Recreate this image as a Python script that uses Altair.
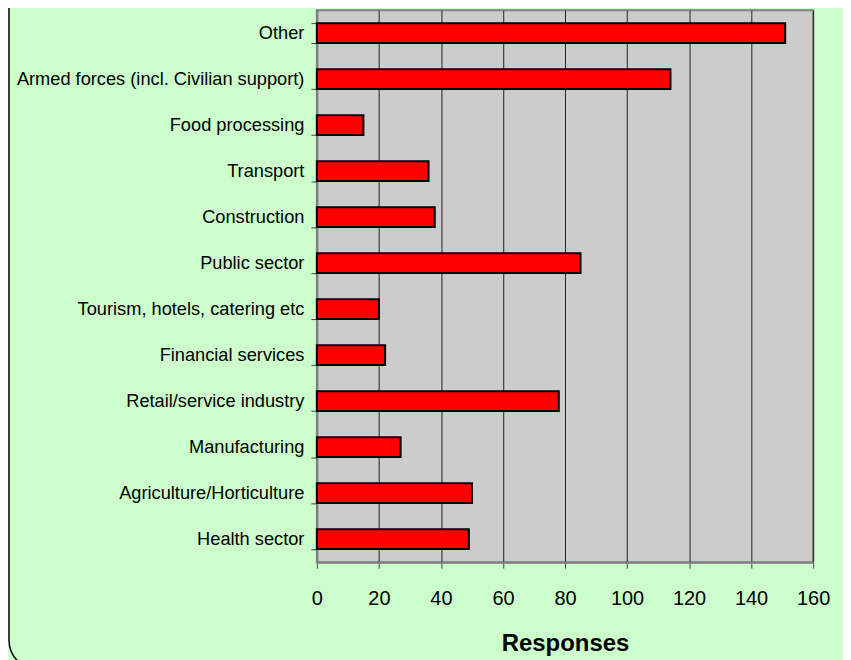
import altair as alt
import pandas as pd

categories = [
    "Other",
    "Armed forces (incl. Civilian support)",
    "Food processing",
    "Transport",
    "Construction",
    "Public sector",
    "Tourism, hotels, catering etc",
    "Financial services",
    "Retail/service industry",
    "Manufacturing",
    "Agriculture/Horticulture",
    "Health sector",
]
responses = [151, 114, 15, 36, 38, 85, 20, 22, 78, 27, 50, 49]
x_ticks = [0, 20, 40, 60, 80, 100, 120, 140, 160]

df = pd.DataFrame({"Sector": categories, "Responses": responses})

FONT = "Liberation Sans"

bars = (
    alt.Chart(df)
    .mark_bar(color="#FF0000", stroke="#000000", strokeWidth=2)
    .encode(
        x=alt.X(
            "Responses:Q",
            scale=alt.Scale(domain=[0, 160], nice=False),
            axis=alt.Axis(
                values=x_ticks,
                title="Responses",
                titleFont=FONT,
                titleFontSize=24,
                titleFontWeight="bold",
                titleColor="#000000",
                titlePadding=24,
                labelFont=FONT,
                labelFontSize=20,
                labelColor="#000000",
                labelPadding=20,
                labelFlush=False,
                tickSize=6,
                tickColor="#444444",
                domainColor="#808080",
                domainWidth=2,
                grid=True,
                gridColor="#222222",
                gridWidth=1,
                gridOpacity=1,
            ),
        ),
        y=alt.Y(
            "Sector:N",
            sort=categories,
            scale=alt.Scale(paddingInner=0.57, paddingOuter=0.285),
            axis=alt.Axis(
                title=None,
                labelFont=FONT,
                labelFontSize=18.3,
                labelColor="#000000",
                labelPadding=7,
                labelLimit=400,
                tickSize=6,
                tickColor="#444444",
                tickBand="extent",
                domainColor="#808080",
                domainWidth=2,
                grid=False,
            ),
        ),
    )
)

# decorative rounded chart-area border (left edge and bottom-left corner visible)
frame = (
    alt.Chart(pd.DataFrame({"k": [0]}))
    .mark_rect(fill=None, stroke="#000000", strokeWidth=1.5, cornerRadius=30, clip=False)
    .encode(
        x=alt.value(-309),
        x2=alt.value(600),
        y=alt.value(-40),
        y2=alt.value(662),
    )
)

chart = (
    alt.layer(frame, bars)
    .properties(
        width=498,
        height=554,
        background="#CCFFCC",
        autosize=alt.AutoSizeParams(type="none"),
        padding={"left": 310, "top": 1, "right": 30, "bottom": 97},
    )
    .configure_view(fill="#CCCCCC", stroke="#808080", strokeWidth=2)
)

chart.save("out.html", embed_options={"renderer": "svg", "actions": False})
